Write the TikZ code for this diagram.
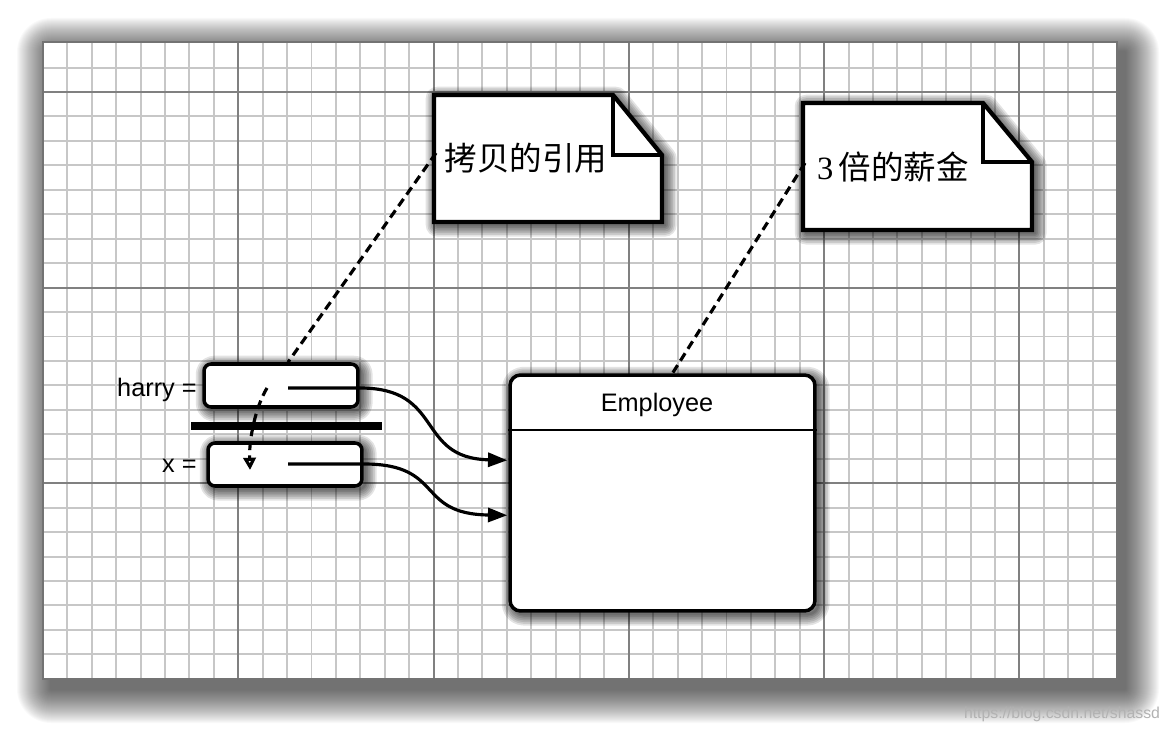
\documentclass[tikz,border=0pt]{standalone}
\usepackage{fontspec}
\setmainfont{Liberation Sans}
\newfontfamily\cjk{Noto Sans CJK SC}
\newfontfamily\serifnum{Liberation Serif}
\usetikzlibrary{arrows.meta,calc}

\tikzset{
  glowlayer/.style={preaction={draw=black,opacity=0.11,line width=#1,line join=round,
      transform canvas={shift={(1.8pt,-1.8pt)}}}},
  glow/.style={glowlayer=13pt,glowlayer=11pt,glowlayer=9pt,glowlayer=7pt,
    glowlayer=5pt,glowlayer=3pt,glowlayer=1.5pt},
  minorline/.style={draw=black!22,line width=1.1pt},
  majorline/.style={draw=black!50,line width=1.1pt},
  varbox/.style={draw,line width=2pt,rounded corners=4pt,fill=white,glow,
    minimum width=3.08cm,minimum height=0.86cm,inner sep=0pt},
  notesheet/.style={draw,line width=2.4pt,fill=white,glow},
  notelink/.style={line width=1.8pt,dash pattern=on 5pt off 3pt},
  reflink/.style={line width=1.8pt,-{Triangle[length=11pt,width=8pt]}},
  labeltext/.style={font=\fontsize{14.4}{17}\selectfont,inner sep=0pt},
  cjktext/.style={font=\cjk\fontsize{18.5}{22}\selectfont,inner sep=0pt}
}

\begin{document}
\begin{tikzpicture}[x=0.02cm,y=-0.02cm]
\useasboundingbox (0,0) rectangle (1169,732);

% Ombre de la feuille
\foreach \r in {1,...,34}
  \fill[black,opacity=0.024,rounded corners={\r*0.02cm}]
  ({51-\r},{52-\r}) rectangle ({1125+\r},{689+\r});

% Feuille quadrillee
\fill[white] (43,42) rectangle (1117,679);
\foreach \i in {1,...,43}
  \draw[minorline] ({43+\i*24.41},42) -- ({43+\i*24.41},679);
\foreach \j in {1,...,25}
  \draw[minorline] (43,{43.1+\j*24.45}) -- (1117,{43.1+\j*24.45});
\foreach \i in {8,16,24,32,40}
  \draw[majorline] ({43+\i*24.41},42) -- ({43+\i*24.41},679);
\foreach \j in {2,10,18}
  \draw[majorline] (43,{43.1+\j*24.45}) -- (1117,{43.1+\j*24.45});
\draw[black!55,line width=1.1pt] (43,42) rectangle (1117,679);

% Notes
\draw[notesheet]
(434,95) -- (613,95) -- (662,155) -- (662,222) -- (434,222) -- cycle;
\draw[line width=2.4pt]
(613,95) -- (613,155) -- (662,155);
\node[cjktext] (copyref) at (526,158) {拷贝的引用};
\coordinate (copyrefedge) at (436,153);

\draw[notesheet]
(803,103) -- (983,103) -- (1032,162) -- (1032,230) -- (803,230) -- cycle;
\draw[line width=2.4pt]
(983,103) -- (983,162) -- (1032,162);
\node[cjktext] (triplesalary) at (893,167) {{\serifnum 3}\,倍的薪金};
\coordinate (tripleedge) at (805,163);

% Variables
\node[varbox] (harrybox) at (281,385.5) {};
\node[labeltext,anchor=east] (harrylabel) at (197,390) {harry =};

\draw[line width=4pt]
(191,426)
--
(382,426);

\node[varbox] (xbox) at (285,464.5) {};
\node[labeltext,anchor=east] (xlabel) at (197,466) {x =};

% Objet
\node[draw,line width=2pt,rounded corners=6pt,fill=white,glow,
  minimum width=6.1cm,minimum height=4.72cm] (employee) at (662.5,493) {};
\draw[line width=1.3pt]
($(employee.north west)+(0,57)$)
--
($(employee.north east)+(0,57)$);
\node[labeltext] (employeename) at (657,405) {Employee};

% References
\coordinate (harrysrc) at (288,388);
\coordinate (harryexit) at (360,388);
\coordinate (xsrc) at (288,464);
\coordinate (xexit) at (364,464);
\coordinate (harrytip) at ($(employee.north west)+(-1,87)$);
\coordinate (xtip) at ($(employee.north west)+(-1,142)$);

\draw[reflink]
(harrysrc) -- (harryexit)
.. controls (445,388) and (415,458) .. (harrytip);

\draw[reflink]
(xsrc) -- (xexit)
.. controls (445,464) and (415,514) .. (xtip);

% Copie
\coordinate (harrydot) at (267,388);
\coordinate (xdot) at (250,470);
\draw[notelink,-{Triangle[open,length=7pt,width=7pt]}]
(harrydot)
.. controls (255,408) and (249,440) ..
(xdot);

% Liens des notes
\draw[notelink]
(copyrefedge)
--
($(harrybox.north)+(7,0)$);

\draw[notelink]
(tripleedge)
--
($(employee.north)+(10,0)$);

\node[font=\fontsize{9}{11}\selectfont,text=black!30] (watermark)
at (1062,714) {https://blog.csdn.net/shassd};

\end{tikzpicture}
\end{document}
